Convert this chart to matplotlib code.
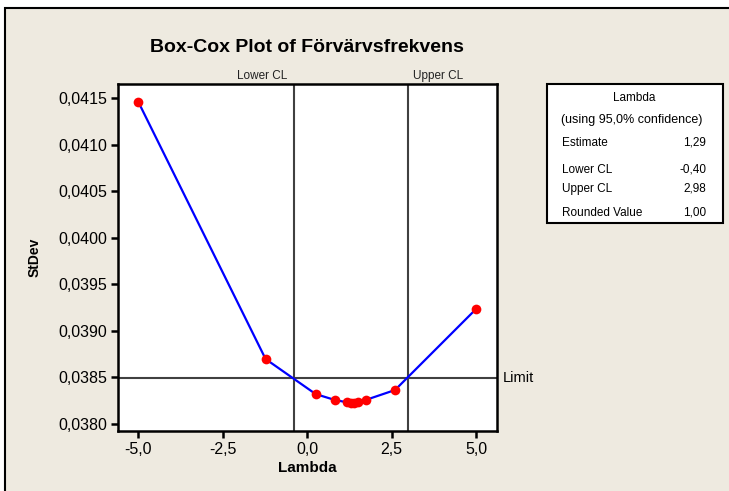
import matplotlib
matplotlib.use("Agg")
import matplotlib.pyplot as plt
from matplotlib.patches import Rectangle
from matplotlib.ticker import FuncFormatter

# data
lam = [-5.0, -1.23, 0.25, 0.82, 1.18, 1.29, 1.40, 1.51, 1.73, 2.60, 5.0]
stdev = [0.041463, 0.038698, 0.038322, 0.038258, 0.038233, 0.038222,
         0.038226, 0.038236, 0.038258, 0.038365, 0.039236]
lower_cl = -0.40
upper_cl = 2.98
limit = 0.03849
xticks = [-5.0, -2.5, 0.0, 2.5, 5.0]
yticks = [0.0380, 0.0385, 0.0390, 0.0395, 0.0400, 0.0405, 0.0410, 0.0415]
table_rows = [("Estimate", "1,29"), ("Lower CL", "-0,40"),
              ("Upper CL", "2,98"), ("Rounded Value", "1,00")]

W, H = 729, 491
bg = '#EEEAE0'
plt.rcParams['font.family'] = ['Liberation Sans', 'DejaVu Sans']

fig = plt.figure(figsize=(W / 100, H / 100), dpi=100)
fig.patch.set_facecolor('white')

def fx(x):
    return x / W

def fy(y):
    return 1 - y / H

# beige frame with black border (cut off at right and bottom)
fig.patches.append(Rectangle((fx(5), -0.1), 1.2, fy(8) + 0.1, transform=fig.transFigure,
                             facecolor=bg, edgecolor='black', linewidth=1.5, zorder=-5))

ax = fig.add_axes([fx(118.3), fy(430.7), fx(496.7) - fx(118.3), fy(84.3) - fy(430.7)])
ax.set_zorder(2)
ax.set_facecolor('white')
ax.plot(lam, stdev, color='#0000FF', linewidth=1.6, zorder=3)
ax.plot(lam, stdev, linestyle='none', marker='o', markersize=7,
        color='#FF0000', markeredgewidth=0, zorder=4)
ax.axvline(lower_cl, color='#404040', linewidth=1.5, zorder=2)
ax.axvline(upper_cl, color='#404040', linewidth=1.5, zorder=2)
ax.axhline(limit, color='#404040', linewidth=1.5, zorder=2)

ax.set_xlim(-5.59, 5.61)
ax.set_ylim(0.037928, 0.041650)
ax.set_xticks(xticks)
ax.set_yticks(yticks)
ax.xaxis.set_major_formatter(FuncFormatter(lambda v, p: f"{v:.1f}".replace('.', ',')))
ax.yaxis.set_major_formatter(FuncFormatter(lambda v, p: f"{v:.4f}".replace('.', ',')))
ax.tick_params(axis='both', direction='out', length=5, width=1.8, labelsize=11.5,
               colors='black', pad=3)
for s in ax.spines.values():
    s.set_linewidth(1.8)
    s.set_color('black')

ax.set_xlabel('Lambda', fontsize=11, fontweight='bold', labelpad=3)
ax.set_ylabel('StDev', fontsize=10, fontweight='bold', labelpad=12)

ax.text(lower_cl - 0.2, 1.008, 'Lower CL', transform=ax.get_xaxis_transform(),
        ha='right', va='bottom', fontsize=8.5, color='#222222')
ax.text(upper_cl + 0.15, 1.008, 'Upper CL', transform=ax.get_xaxis_transform(),
        ha='left', va='bottom', fontsize=8.5, color='#222222')
ax.text(1.0 + 6 / 378, limit, 'Limit', transform=ax.get_yaxis_transform(),
        ha='left', va='center', fontsize=10.5)

fig.text(fx(307), fy(47), 'Box-Cox Plot of Förvärvsfrekvens', ha='center', va='center',
         fontsize=14, fontweight='bold')

# summary table
fig.patches.append(Rectangle((fx(546.7), fy(222.7)), fx(723.3) - fx(546.7), fy(84) - fy(222.7),
                             transform=fig.transFigure, facecolor='white',
                             edgecolor='black', linewidth=1.5, zorder=1))
fig.text(fx(634), fy(98.3), 'Lambda', ha='center', va='center', fontsize=8.5)
fig.text(fx(632), fy(120), '(using 95,0% confidence)', ha='center', va='center', fontsize=9)
row_y = [142.7, 170, 188.7, 212.7]
for (name, val), yy in zip(table_rows, row_y):
    fig.text(fx(562), fy(yy), name, ha='left', va='center', fontsize=8.5)
    fig.text(fx(706), fy(yy), val, ha='right', va='center', fontsize=8.5)

fig.savefig('out.png', dpi=100, facecolor=fig.get_facecolor())
